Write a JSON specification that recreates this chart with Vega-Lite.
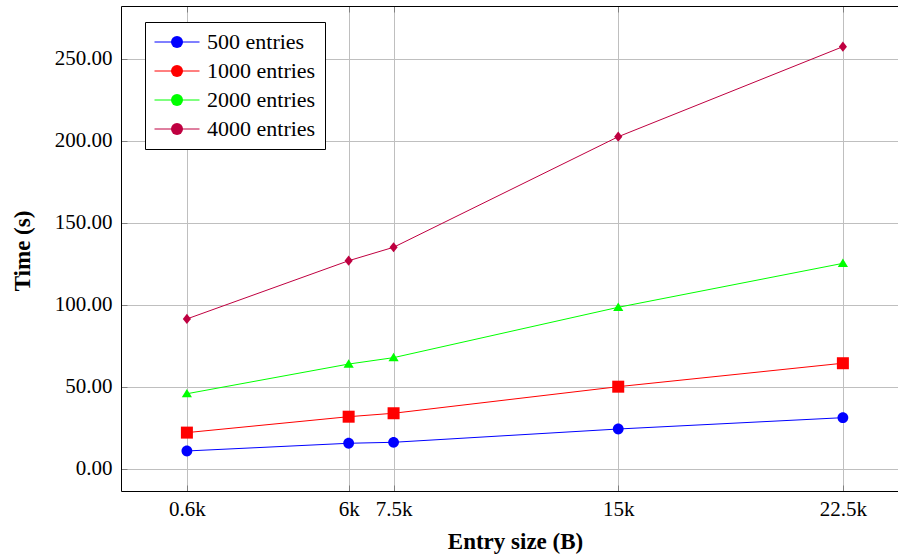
{
  "$schema": "https://vega.github.io/schema/vega-lite/v6.json",
  "width": 777,
  "height": 485,
  "autosize": {"type": "none"},
  "padding": {"left": 121, "top": 6, "right": 0, "bottom": 66},
  "config": {
    "view": {"stroke": null},
    "font": "Liberation Serif",
    "legend": {"strokeWidth": 1}
  },
  "data": {
    "values": [
      {"size": 600, "time": 10.8, "series": "500 entries"},
      {"size": 6000, "time": 15.5, "series": "500 entries"},
      {"size": 7500, "time": 16.1, "series": "500 entries"},
      {"size": 15000, "time": 24.2, "series": "500 entries"},
      {"size": 22500, "time": 31.1, "series": "500 entries"},
      {"size": 600, "time": 22.0, "series": "1000 entries"},
      {"size": 6000, "time": 31.7, "series": "1000 entries"},
      {"size": 7500, "time": 33.8, "series": "1000 entries"},
      {"size": 15000, "time": 50.0, "series": "1000 entries"},
      {"size": 22500, "time": 64.3, "series": "1000 entries"},
      {"size": 600, "time": 45.7, "series": "2000 entries"},
      {"size": 6000, "time": 63.8, "series": "2000 entries"},
      {"size": 7500, "time": 67.7, "series": "2000 entries"},
      {"size": 15000, "time": 98.4, "series": "2000 entries"},
      {"size": 22500, "time": 125.2, "series": "2000 entries"},
      {"size": 600, "time": 91.3, "series": "4000 entries"},
      {"size": 6000, "time": 126.8, "series": "4000 entries"},
      {"size": 7500, "time": 135.0, "series": "4000 entries"},
      {"size": 15000, "time": 202.4, "series": "4000 entries"},
      {"size": 22500, "time": 257.3, "series": "4000 entries"}
    ]
  },
  "layer": [
    {
      "mark": {"type": "line", "strokeWidth": 1},
      "encoding": {
        "x": {
          "field": "size", "type": "quantitative",
          "scale": {"domain": [-1600, 24340], "nice": false, "zero": false},
          "axis": {
            "orient": "bottom",
            "values": [600, 6000, 7500, 15000, 22500],
            "labelExpr": "(datum.value/1000) + 'k'",
            "grid": true, "gridColor": "#bfbfbf", "gridWidth": 1,
            "domainColor": "#000000", "domainWidth": 1,
            "tickColor": "#808080", "tickSize": -6, "tickWidth": 1,
            "labelPadding": 13, "labelFontSize": 21, "labelColor": "#000000",
            "labelFont": "Liberation Serif",
            "title": "Entry size (B)", "titleFontSize": 23, "titleFontWeight": "bold",
            "titleFont": "Liberation Serif", "titleColor": "#000000",
            "titleX": 394, "titleY": 57, "titleBaseline": "alphabetic", "titleAlign": "center"
          }
        },
        "y": {
          "field": "time", "type": "quantitative",
          "scale": {"domain": [-13.6, 282.1], "nice": false, "zero": false},
          "axis": {
            "values": [0, 50, 100, 150, 200, 250],
            "format": ".2f",
            "grid": true, "gridColor": "#bfbfbf", "gridWidth": 1,
            "domainColor": "#000000", "domainWidth": 1,
            "tickColor": "#808080", "tickSize": -6, "tickWidth": 1,
            "labelPadding": 15, "labelFontSize": 21, "labelColor": "#000000",
            "labelFont": "Liberation Serif",
            "title": "Time (s)", "titleFontSize": 23, "titleFontWeight": "bold",
            "titleFont": "Liberation Serif", "titleColor": "#000000",
            "titleX": -92, "titleY": 244.5, "titleBaseline": "alphabetic", "titleAlign": "center", "titleAngle": -90
          }
        },
        "color": {
          "field": "series", "type": "nominal",
          "scale": {
            "domain": ["500 entries", "1000 entries", "2000 entries", "4000 entries"],
            "range": ["#0000ff", "#ff0000", "#00ff00", "#bf0040"]
          },
          "legend": {
            "orient": "none", "legendX": 24, "legendY": 16,
            "title": null,
            "padding": 9, "strokeColor": "#000000", "fillColor": "#ffffff", "cornerRadius": 0,
            "labelFont": "Liberation Serif", "labelFontSize": 22, "labelColor": "#000000", "labelOpacity": 0,
            "symbolType": "M-3.75,0H3.75", "symbolSize": 144, "symbolStrokeWidth": 1,
            "symbolOffset": 12, "labelOffset": 19, "rowPadding": 7
          }
        }
      }
    },
    {
      "mark": {"type": "point", "filled": true, "size": 144, "opacity": 1},
      "encoding": {
        "x": {
          "field": "size", "type": "quantitative",
          "scale": {"domain": [-1600, 24340], "nice": false, "zero": false},
          "axis": {
            "orient": "top",
            "values": [600, 6000, 7500, 15000, 22500],
            "labels": false, "grid": false, "title": null,
            "domainColor": "#000000", "domainWidth": 1,
            "tickColor": "#808080", "tickSize": -6, "tickWidth": 1
          }
        },
        "y": {
          "field": "time", "type": "quantitative",
          "scale": {"domain": [-13.6, 282.1], "nice": false, "zero": false}
        },
        "color": {
          "field": "series", "type": "nominal",
          "scale": {
            "domain": ["500 entries", "1000 entries", "2000 entries", "4000 entries"],
            "range": ["#0000ff", "#ff0000", "#00ff00", "#bf0040"]
          },
          "legend": {
            "orient": "none", "legendX": 24, "legendY": 16,
            "title": null,
            "padding": 9, "strokeColor": "rgba(0,0,0,0)", "fillColor": "rgba(0,0,0,0)", "cornerRadius": 0,
            "labelFont": "Liberation Serif", "labelFontSize": 22, "labelColor": "#000000",
            "symbolSize": 144, "symbolOffset": 12, "labelOffset": 19, "rowPadding": 7
          }
        },
        "shape": {
          "field": "series", "type": "nominal",
          "scale": {
            "domain": ["500 entries", "1000 entries", "2000 entries", "4000 entries"],
            "range": [
              "M-0.9,0A0.9,0.9,0,1,0,0.9,0A0.9,0.9,0,1,0,-0.9,0Z",
              "M-1,-1H1V1H-1Z",
              "M-0.85,0.6L0,-0.8L0.85,0.6Z",
              "M0,-0.85L0.68,0L0,0.85L-0.68,0Z"
            ]
          },
          "legend": {
            "orient": "none", "legendX": 24, "legendY": 16,
            "title": null,
            "padding": 9, "strokeColor": "rgba(0,0,0,0)", "fillColor": "rgba(0,0,0,0)", "cornerRadius": 0,
            "labelFont": "Liberation Serif", "labelFontSize": 22, "labelColor": "#000000",
            "symbolSize": 144, "symbolOffset": 12, "labelOffset": 19, "rowPadding": 7
          }
        }
      }
    }
  ],
  "resolve": {"axis": {"x": "independent"}, "legend": {"color": "independent"}}
}
